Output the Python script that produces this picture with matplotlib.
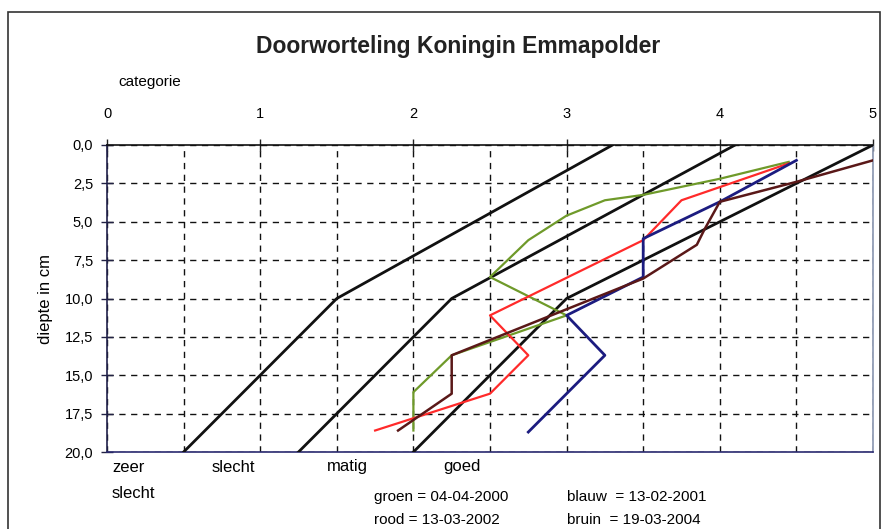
import matplotlib
matplotlib.use("Agg")
import matplotlib.pyplot as plt
from matplotlib.patches import Rectangle
from matplotlib.ticker import MultipleLocator, FuncFormatter

plt.rcParams['font.family'] = ['Liberation Sans Narrow', 'Liberation Sans', 'DejaVu Sans']

# category boundary lines (categorie, diepte)
grens1_x = [0.5, 1.5, 3.3]
grens1_y = [20.0, 10.0, 0.0]
grens2_x = [1.25, 2.25, 4.1]
grens2_y = [20.0, 10.0, 0.0]
grens3_x = [2.0, 3.0, 5.0]
grens3_y = [20.0, 10.0, 0.0]

# measurements
groen_x = [4.45, 4.0, 3.5, 3.25, 3.0, 2.75, 2.5, 3.0, 2.25, 2.0, 2.0]
groen_y = [1.1, 2.2, 3.25, 3.6, 4.6, 6.2, 8.6, 11.1, 13.7, 16.1, 18.6]
rood_x = [4.45, 3.75, 3.5, 2.5, 2.75, 2.5, 1.75]
rood_y = [1.2, 3.6, 6.2, 11.1, 13.7, 16.2, 18.6]
blauw_x = [4.5, 4.0, 3.5, 3.5, 3.0, 3.25, 2.75]
blauw_y = [1.0, 3.7, 6.1, 8.6, 11.1, 13.7, 18.7]
bruin_x = [5.0, 4.5, 4.0, 3.9, 3.85, 3.5, 3.0, 2.25, 2.25, 1.9]
bruin_y = [1.0, 2.4, 3.7, 5.5, 6.5, 8.7, 10.7, 13.7, 16.2, 18.6]

W, H = 882, 529
fig = plt.figure(figsize=(W / 100, H / 100), dpi=100)
ax = fig.add_axes([107 / W, 1 - 452 / H, (873 - 107) / W, (452 - 145) / H])

def fx(px):
    return px / W

def fy(py):
    return 1 - py / H

# outer frame
fig.patches.append(Rectangle((fx(8), fy(545)), fx(872), (545 - 12) / H, transform=fig.transFigure,
                             fill=False, edgecolor='#333333', linewidth=1.2))

for xs, ys in [(grens1_x, grens1_y), (grens2_x, grens2_y), (grens3_x, grens3_y)]:
    ax.plot(xs, ys, color='#111111', linewidth=2.0, zorder=3)

ax.plot(groen_x, groen_y, color='#6f9a2a', linewidth=1.6, zorder=4)
ax.plot(rood_x, rood_y, color='#ff2a2a', linewidth=1.6, zorder=4)
ax.plot(blauw_x, blauw_y, color='#1c1c80', linewidth=2.0, zorder=5)
ax.plot(bruin_x, bruin_y, color='#5a1818', linewidth=1.8, zorder=5)

ax.set_xlim(0, 5)
ax.set_ylim(20, 0)
ax.xaxis.set_major_locator(MultipleLocator(1))
ax.xaxis.set_minor_locator(MultipleLocator(0.5))
ax.yaxis.set_major_locator(MultipleLocator(2.5))
ax.yaxis.set_major_formatter(FuncFormatter(lambda v, p: f"{v:.1f}".replace('.', ',')))
ax.xaxis.tick_top()
ax.tick_params(axis='x', which='major', direction='inout', length=8, width=1, pad=13,
               labelsize=10.5, color='#222222')
ax.tick_params(axis='x', which='minor', length=0)
ax.tick_params(axis='y', direction='inout', length=8, width=1, pad=6, labelsize=10.5, color='#222244')
ax.grid(True, which='both', axis='x', color='#111111', linestyle=(0, (4.5, 4)), linewidth=1)
ax.grid(True, which='major', axis='y', color='#111111', linestyle=(0, (4.5, 4)), linewidth=1)

ax.spines['top'].set_color('#111111')
ax.spines['left'].set_color('#20204a')
ax.spines['bottom'].set_color('#2a2a70')
ax.spines['right'].set_color('#8a96b0')
for s in ax.spines.values():
    s.set_linewidth(1.2)

ax.set_ylabel("diepte in cm", fontsize=12, labelpad=8)

fig.text(fx(458), fy(47), "Doorworteling Koningin Emmapolder", ha='center', va='center',
         fontsize=16.5, fontweight='bold', color='#222222')
fig.text(fx(118), fy(82), "categorie", ha='left', va='center', fontsize=11)

fig.text(fx(112), fy(467), "zeer", ha='left', va='center', fontsize=12)
fig.text(fx(112), fy(493), "slecht", ha='left', va='center', fontsize=12)
fig.text(fx(212), fy(467), "slecht", ha='left', va='center', fontsize=12)
fig.text(fx(327), fy(467), "matig", ha='left', va='center', fontsize=12)
fig.text(fx(443), fy(467), "goed", ha='left', va='center', fontsize=12)

fig.text(fx(374), fy(497), "groen = 04-04-2000", ha='left', va='center', fontsize=11)
fig.text(fx(374), fy(520), "rood = 13-03-2002", ha='left', va='center', fontsize=11)
fig.text(fx(567), fy(497), "blauw  = 13-02-2001", ha='left', va='center', fontsize=11)
fig.text(fx(567), fy(520), "bruin  = 19-03-2004", ha='left', va='center', fontsize=11)

fig.savefig("out.png", dpi=100)
